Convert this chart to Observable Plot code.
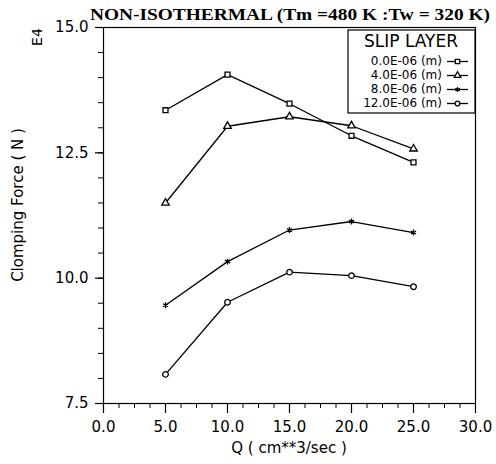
<!DOCTYPE html>
<html><head><meta charset="utf-8">
<script src="https://cdn.jsdelivr.net/npm/d3@7"></script>
<script src="https://cdn.jsdelivr.net/npm/@observablehq/plot@0.6"></script>
<style>body{margin:0;background:#fff} svg{display:block}</style>
</head><body><div id="chart"></div>
<script>
const titleText = "NON-ISOTHERMAL (Tm =480 K :Tw = 320 K)";
const legendTitle = "SLIP LAYER";
const xLabel = "Q ( cm**3/sec )";
const yLabel = "Clomping Force ( N )";
const yExp = "E4";
const q = [5, 10, 15, 20, 25];
const seriesNames = ["0.0E-06 (m)", "4.0E-06 (m)", "8.0E-06 (m)", "12.0E-06 (m)"];
const slip0 = [13.35, 14.06, 13.48, 12.84, 12.31];
const slip4 = [11.50, 13.03, 13.22, 13.04, 12.58];
const slip8 = [9.46, 10.33, 10.96, 11.13, 10.91];
const slip12 = [8.08, 9.52, 10.12, 10.05, 9.83];
const xTicks = [0, 5, 10, 15, 20, 25, 30];
const xMinor = [0,1.25,2.5,3.75,5,6.25,7.5,8.75,10,11.25,12.5,13.75,15,16.25,17.5,18.75,20,21.25,22.5,23.75,25,26.25,27.5,28.75,30];
const yTicks = [7.5, 10, 12.5, 15];
const yMinor = [7.5,8,8.5,9,9.5,10,10.5,11,11.5,12,12.5,13,13.5,14,14.5,15];
const symbolNames = ["square", "triangle", "asterisk", "circle"];
const d3Symbols = [d3.symbolSquare, d3.symbolTriangle, d3.symbolAsterisk, d3.symbolCircle];

const allSeries = [slip0, slip4, slip8, slip12];
const rows = [];
allSeries.forEach((vals, i) => vals.forEach((v, j) => rows.push({q: q[j], force: v, series: seriesNames[i]})));

const sans = "DejaVu Sans";
const R = 2.8;

const plot = Plot.plot({
  width: 496, height: 464,
  marginLeft: 103, marginRight: 21, marginTop: 27, marginBottom: 61,
  style: {fontFamily: sans, fontSize: "15px", background: "white", color: "black"},
  x: {domain: [0, 30], label: null},
  y: {domain: [7.5, 15], label: null},
  symbol: {domain: seriesNames, range: symbolNames},
  marks: [
    Plot.frame({stroke: "black", strokeWidth: 1.2}),
    Plot.axisX(xMinor, {tickSize: 5, tickFormat: () => "", strokeWidth: 1}),
    Plot.axisX(xTicks, {tickSize: 10, tickPadding: 8, tickFormat: d3.format(".1f"), fontSize: 15, strokeWidth: 1.2}),
    Plot.axisY(yMinor, {tickSize: 5, tickFormat: () => "", strokeWidth: 1}),
    Plot.axisY(yTicks, {tickSize: 8, tickPadding: 7, tickFormat: d3.format(".1f"), fontSize: 15, strokeWidth: 1.2}),
    Plot.line(rows, {x: "q", y: "force", z: "series", stroke: "black", strokeWidth: 1.3}),
    Plot.dot(rows, {x: "q", y: "force", symbol: "series", r: R, stroke: "black", fill: "white", strokeWidth: 1.3})
  ]
});
document.getElementById("chart").appendChild(plot);

const svg = d3.select(plot);
const g = svg.append("g");
g.append("text").attr("x", 90).attr("y", 20).attr("text-anchor", "start")
  .attr("font-family", "Liberation Serif").attr("font-weight", "bold").attr("font-size", 17)
  .attr("textLength", 400).attr("lengthAdjust", "spacingAndGlyphs")
  .attr("fill", "black").text(titleText);
g.append("text").attr("transform", "translate(38,37) rotate(-90)")
  .attr("text-anchor", "middle").attr("dominant-baseline", "middle")
  .attr("font-family", sans).attr("font-size", 14).attr("fill", "black").text(yExp);
g.append("text").attr("transform", "translate(18,205) rotate(-90)")
  .attr("text-anchor", "middle").attr("dominant-baseline", "middle")
  .attr("font-family", sans).attr("font-size", 15).attr("fill", "black").text(yLabel);
g.append("text").attr("x", 289).attr("y", 448)
  .attr("text-anchor", "middle").attr("dominant-baseline", "middle")
  .attr("font-family", sans).attr("font-size", 15).attr("fill", "black").text(xLabel);

// legend
const lg = g.append("g");
lg.append("rect").attr("x", 348).attr("y", 30).attr("width", 127).attr("height", 83)
  .attr("fill", "white").attr("stroke", "black").attr("stroke-width", 1.2);
lg.append("text").attr("x", 411).attr("y", 42).attr("text-anchor", "middle").attr("dominant-baseline", "middle")
  .attr("font-family", sans).attr("font-size", 17).attr("fill", "black").text(legendTitle);
seriesNames.forEach((name, i) => {
  const y = 61.5 + i * 14;
  lg.append("text").attr("x", 442).attr("y", y).attr("text-anchor", "end").attr("dominant-baseline", "middle")
    .attr("font-family", sans).attr("font-size", 12).attr("fill", "black").text(name);
  lg.append("line").attr("x1", 447).attr("x2", 468).attr("y1", y).attr("y2", y)
    .attr("stroke", "black").attr("stroke-width", 1.3);
  lg.append("path").attr("transform", `translate(457.5,${y})`)
    .attr("d", d3.symbol().type(d3Symbols[i]).size(Math.PI * 2.4 * 2.4)())
    .attr("fill", "white").attr("stroke", "black").attr("stroke-width", 1.3);
});
</script></body></html>
